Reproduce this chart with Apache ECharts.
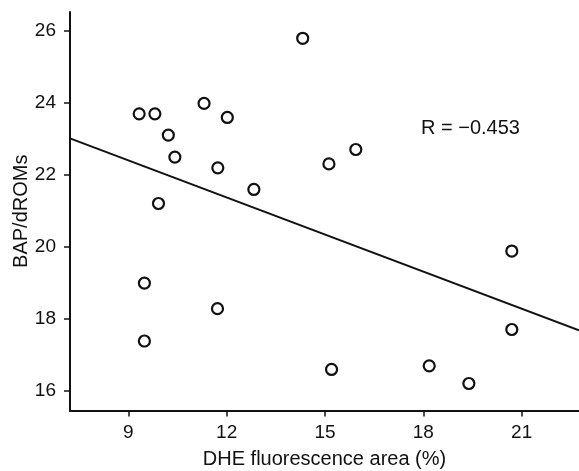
<!DOCTYPE html>
<html>
<head>
<meta charset="utf-8">
<script src="https://cdn.jsdelivr.net/npm/echarts@6/dist/echarts.min.js"></script>
<style>html,body{margin:0;padding:0;background:#fff}#c{width:579px;height:471px}</style>
</head>
<body>
<div id="c"></div>
<script>
const dheArea = [9.33, 9.81, 10.22, 10.42, 9.92, 9.49, 9.49, 11.31, 12.02, 11.73, 11.72, 12.83, 14.32, 15.12, 15.94, 15.20, 18.18, 19.39, 20.70, 20.70];
const bapDroms = [23.70, 23.70, 23.11, 22.50, 21.21, 19.00, 17.39, 23.99, 23.60, 22.20, 18.29, 21.60, 25.80, 22.31, 22.71, 16.60, 16.70, 16.21, 19.89, 17.71];
const fitX = [7.22, 22.75];
const fitY = [23.02, 17.69];
const xTicks = [9, 12, 15, 18, 21];
const yTicks = [16, 18, 20, 22, 24, 26];
const rLabel = 'R = \u22120.453';

const font = '"Liberation Sans", Arial, Helvetica, sans-serif';
const chart = echarts.init(document.getElementById('c'), null, {renderer: 'canvas'});
chart.setOption({
  animation: false,
  backgroundColor: '#fff',
  grid: {left: 70, right: 0, top: 12, bottom: 60.5, containLabel: false, outerBoundsMode: 'none'},
  xAxis: {
    type: 'value', min: 7.22, max: 22.75,
    name: 'DHE fluorescence area (%)', nameLocation: 'middle', nameGap: 39, nameMoveOverlap: false,
    nameTextStyle: {fontFamily: font, fontSize: 20, color: '#111'},
    axisLine: {show: true, onZero: false, lineStyle: {color: '#111', width: 2}},
    axisTick: {show: true, inside: false, length: 6, lineStyle: {color: '#111', width: 1.5}, customValues: xTicks},
    axisLabel: {fontFamily: font, fontSize: 19, color: '#111', margin: 13, customValues: xTicks},
    splitLine: {show: false}
  },
  yAxis: {
    type: 'value', min: 15.46, max: 26.53,
    name: 'BAP/dROMs', nameLocation: 'middle', nameGap: 39, nameMoveOverlap: false,
    nameTextStyle: {fontFamily: font, fontSize: 20, color: '#111'},
    axisLine: {show: true, onZero: false, lineStyle: {color: '#111', width: 2}},
    axisTick: {show: true, inside: false, length: 6, lineStyle: {color: '#111', width: 1.5}, customValues: yTicks},
    axisLabel: {fontFamily: font, fontSize: 19, color: '#111', margin: 14, customValues: yTicks},
    splitLine: {show: false}
  },
  graphic: [{
    type: 'text', left: 421, top: 118,
    style: {text: rLabel, font: '20px ' + font, fill: '#111'}
  }],
  series: [
    {
      type: 'line', data: fitX.map((x, i) => [x, fitY[i]]),
      symbol: 'none', lineStyle: {color: '#111', width: 2}, z: 2, silent: true
    },
    {
      type: 'scatter', data: dheArea.map((x, i) => [x, bapDroms[i]]),
      symbol: 'circle', symbolSize: 11,
      itemStyle: {color: '#fff', borderColor: '#111', borderWidth: 2.2, opacity: 1}, z: 3
    }
  ]
});
</script>
</body>
</html>
